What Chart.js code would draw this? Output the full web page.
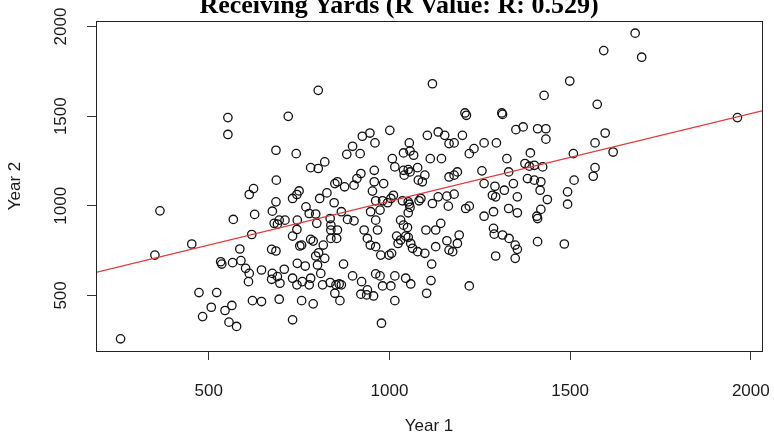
<!DOCTYPE html>
<html>
<head>
<meta charset="utf-8">
<script src="https://cdn.jsdelivr.net/npm/chart.js@4"></script>
<style>
  html, body { margin: 0; padding: 0; background: #fff; }
  #contenedor { width: 774px; height: 439px; }
</style>
</head>
<body>
<div id="contenedor"><canvas id="grafico"></canvas></div>
<script>
// Valores (Year 1 / Year 2)
const year1 = [
  553, 553, 720, 803, 1119, 1428, 1209, 1213, 1311, 1313, 925, 946, 1001, 1105, 1135, 1153, 1202, 1350, 1370, 1410, 1433,
  1680, 1593, 1698, 1499, 1575, 1963, 1597,
  686, 742, 782, 803, 687, 624, 612, 750, 744, 732, 807, 686, 365, 568, 627, 676, 769, 796, 681, 690, 695, 711, 745, 778,
  799, 744, 732, 619, 453, 782, 789, 752, 757, 586, 674, 686, 351, 796, 804,
  533, 536, 566, 589, 602, 612, 610, 646, 676, 674, 690, 697, 709, 732, 745, 744, 759, 767, 778, 782, 801, 810, 815,
  473, 522, 507, 483, 545, 564, 556, 577, 621, 646, 695, 732, 757, 789, 256,
  873, 836, 852, 861, 867, 849, 863, 898, 923, 921, 939, 937, 956, 962, 974, 981, 1004, 1015, 1015, 1045, 1059, 1103,
  1115, 1117, 1221, 978,
  1569, 1509, 1619, 1569, 1564, 1511, 1437, 1493, 1493, 1484,
  1433, 898, 960, 1055, 1165, 1179, 1262, 1296, 882, 919, 1039, 1057, 1067, 1008, 1113, 1144, 1221, 1234, 1325, 1390,
  821, 958, 1015, 1039, 1052, 1057, 1078, 1041, 1098, 1080, 1091, 1165, 1179, 1188, 1256, 1330, 1375, 1387, 1401, 1424,
  1382, 1401, 1419, 849, 856, 876, 902, 910, 921, 827, 958, 984, 953, 1262, 1292, 1285, 1294, 1318, 1343, 1354, 1417,
  847, 867, 962, 981, 995, 1004, 1011, 1036, 1052, 1055, 1057, 1082, 1087, 1119, 1135, 1159, 1179, 1163, 948, 974,
  1211, 1221, 1262, 1288, 1330, 1354, 1419, 1408, 1410, 836, 884, 902, 962, 1031, 1052, 1142, 838, 838, 856, 930, 967,
  1039, 1050, 1101, 1128, 1288, 1290, 1313, 1331, 1193, 838, 854, 939, 1020, 1045, 1052, 1031, 1159, 1188, 817, 947,
  962, 1024, 1059, 1128, 1064, 1348, 1354, 1410, 1078, 1175, 1165, 976, 999, 1006, 1098, 821, 1294, 1348
];
const year2 = [
  1492, 1398, 1499, 1644, 1681, 1616, 1518, 1505, 1518, 1510, 1388, 1406, 1421, 1393, 1412, 1393, 1393, 1425, 1440, 1430, 1430,
  1963, 1866, 1829, 1696, 1566, 1492, 1406,
  1310, 1291, 1213, 1208, 1143, 1096, 1063, 1083, 1063, 1041, 1041, 1022, 972, 924, 952, 970, 994, 954, 902, 898, 920, 920, 920, 957,
  902, 868, 831, 840, 787, 813, 803, 776, 781, 759, 757, 748, 725, 720, 738,
  688, 675, 683, 694, 651, 623, 577, 642, 623, 590, 605, 568, 646, 596, 679, 559, 577, 664, 559, 596, 670, 623, 559,
  516, 516, 434, 382, 416, 444, 351, 327, 471, 466, 479, 364, 471, 453, 258,
  675, 572, 559, 564, 559, 512, 471, 609, 577, 507, 531, 503, 497, 620, 609, 553, 553, 609, 471, 596, 564, 512,
  583, 675, 553, 345,
  1351, 1291, 1300, 1213, 1165, 1143, 1035, 1078, 1009, 787,
  1372, 1332, 1351, 1351, 1347, 1351, 1351, 1351, 1287, 1291, 1295, 1306, 1282, 1263, 1263, 1263, 1291, 1319, 1263, 1295,
  1245, 1198, 1217, 1198, 1202, 1189, 1213, 1171, 1171, 1143, 1134, 1161, 1171, 1189, 1195, 1189, 1236, 1221, 1226, 1217,
  1152, 1143, 1134, 1124, 1134, 1106, 1115, 1152, 1180, 1072, 1134, 1124, 1082, 1124, 1109, 1059, 1050, 1087, 1124, 1050, 1087,
  1017, 967, 1028, 1028, 1017, 1041, 1059, 1028, 1022, 1009, 991, 1028, 1041, 1013, 1050, 1054, 1065, 998, 967, 976,
  985, 998, 942, 967, 985, 961, 980, 942, 929, 929, 924, 916, 920, 920, 961, 902, 892, 865, 865, 865, 865,
  892, 879, 865, 865, 874, 842, 837, 818, 837, 818, 818, 818, 831, 831, 824, 809, 805, 790, 781, 781,
  772, 790, 790, 772, 763, 781, 757, 800, 744, 744, 753, 725, 725, 735, 735, 707, 720, 707
];
const ajusteX = [188, 2031];
const ajusteY = [628, 1530];
const ticksX = [500, 1000, 1500, 2000];
const ticksY = [500, 1000, 1500, 2000];
const titulo = 'Receiving Yards (R Value: R: 0.529)';

document.addEventListener('DOMContentLoaded', function () {
    const puntos = year1.map((x, i) => ({ x: x, y: year2[i] }));
    const recta = ajusteX.map((x, i) => ({ x: x, y: ajusteY[i] }));

    // Marco alrededor del area y titulo (estilo R)
    const marco = {
        id: 'marco',
        afterDatasetsDraw(chart) {
            const a = chart.chartArea;
            const ctx = chart.ctx;
            ctx.save();
            ctx.strokeStyle = '#222';
            ctx.lineWidth = 1;
            ctx.strokeRect(Math.round(a.left) + 0.5, Math.round(a.top) + 0.5,
                Math.round(a.right - a.left), Math.round(a.bottom - a.top));
            ctx.fillStyle = '#000';
            ctx.font = 'bold 26px "Liberation Serif", "Times New Roman", serif';
            ctx.textAlign = 'center';
            ctx.textBaseline = 'alphabetic';
            ctx.fillText(titulo, 399, 13);
            ctx.restore();
        }
    };

    const fuente = { family: '"Liberation Sans", Arial, sans-serif', size: 17, lineHeight: 1.2 };
    const sinComa = v => String(v);

    new Chart(document.getElementById('grafico').getContext('2d'), {
        type: 'scatter',
        data: {
            datasets: [{
                type: 'line',
                data: recta,
                borderColor: '#e0393b',
                borderWidth: 1.2,
                pointRadius: 0,
                fill: false
            }, {
                data: puntos,
                pointStyle: 'circle',
                pointRadius: 4.2,
                borderWidth: 1.3,
                borderColor: '#111',
                backgroundColor: 'rgba(0,0,0,0)'
            }]
        },
        options: {
            responsive: true,
            maintainAspectRatio: false,
            animation: { duration: 0 },
            layout: { padding: { top: 21, right: 12, left: 0, bottom: 0 } },
            plugins: {
                legend: { display: false },
                tooltip: { enabled: false }
            },
            scales: {
                x: {
                    type: 'linear',
                    min: 188,
                    max: 2031,
                    afterBuildTicks: s => { s.ticks = ticksX.map(v => ({ value: v })); },
                    afterFit: s => { s.height = 88; s.paddingLeft = 0; s.paddingRight = 0; },
                    grid: { drawOnChartArea: false, drawTicks: true, tickLength: 9, color: '#333' },
                    border: { display: false },
                    ticks: { font: fuente, color: '#1a1a1a', padding: 21, maxRotation: 0, autoSkip: false, callback: sinComa },
                    title: { display: true, text: 'Year 1', font: fuente, color: '#1a1a1a', padding: { top: 0, bottom: 2 } }
                },
                y: {
                    type: 'linear',
                    min: 190,
                    max: 2031,
                    afterBuildTicks: s => { s.ticks = ticksY.map(v => ({ value: v })); },
                    afterFit: s => { s.width = 96; s.paddingTop = 0; s.paddingBottom = 0; },
                    grid: { drawOnChartArea: false, drawTicks: true, tickLength: 9, color: '#333' },
                    border: { display: false },
                    ticks: { font: fuente, color: '#1a1a1a', padding: 7, minRotation: 90, maxRotation: 90, crossAlign: 'center', autoSkip: false, callback: sinComa },
                    title: { display: true, text: 'Year 2', font: fuente, color: '#1a1a1a', padding: { top: 5, bottom: 0 } }
                }
            }
        },
        plugins: [marco]
    });
});
</script>
</body>
</html>
